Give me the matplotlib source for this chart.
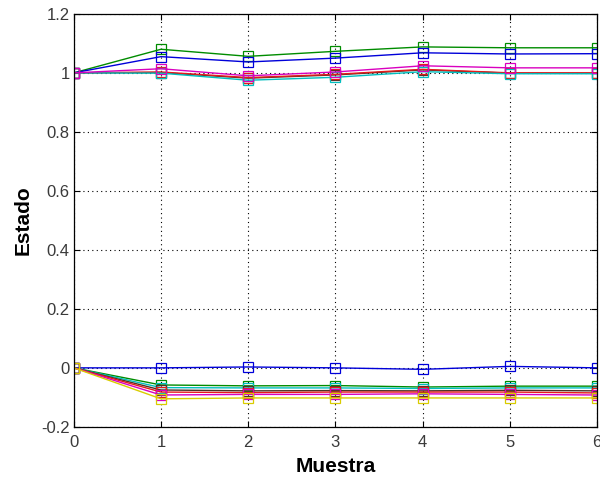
import matplotlib

matplotlib.use("Agg")
import matplotlib.pyplot as plt

plt.rcParams["font.family"] = ["Liberation Sans", "DejaVu Sans"]

muestra = [0, 1, 2, 3, 4, 5, 6]

# estados que arrancan en 1
sup_verde = [1, 1.080, 1.056, 1.073, 1.088, 1.085, 1.085]
sup_azul = [1, 1.055, 1.037, 1.050, 1.068, 1.064, 1.065]
sup_rojo = [1, 1.003, 0.984, 0.995, 1.012, 1.000, 1.000]
sup_negro = [1, 1.001, 0.982, 0.993, 1.010, 0.999, 0.999]
sup_cian = [1, 0.999, 0.975, 0.985, 1.004, 0.997, 0.997]
sup_magenta = [1, 1.014, 0.990, 1.003, 1.024, 1.017, 1.017]

# estados que arrancan en 0
inf_azul = [0, 0.000, 0.003, 0.000, -0.005, 0.005, 0.000]
inf_verde = [0, -0.058, -0.061, -0.060, -0.065, -0.062, -0.062]
inf_cian = [0, -0.067, -0.068, -0.068, -0.070, -0.068, -0.068]
inf_negro = [0, -0.075, -0.078, -0.077, -0.078, -0.076, -0.078]
inf_rojo = [0, -0.082, -0.084, -0.082, -0.082, -0.082, -0.085]
inf_magenta = [0, -0.092, -0.090, -0.090, -0.088, -0.090, -0.092]
inf_amarillo = [0, -0.105, -0.102, -0.102, -0.102, -0.102, -0.102]

y_ticks = [-0.2, 0, 0.2, 0.4, 0.6, 0.8, 1, 1.2]
y_labels = ["-0.2", "0", "0.2", "0.4", "0.6", "0.8", "1", "1.2"]

colores = {
    "b": (0, 0, 0.85),
    "g": (0, 0.55, 0),
    "r": (0.9, 0.1, 0.1),
    "c": (0, 0.75, 0.75),
    "m": (0.85, 0, 0.75),
    "y": (0.85, 0.8, 0),
    "k": (0.3, 0.2, 0.15),
}

series = [
    (sup_verde, "g"), (sup_azul, "b"), (sup_negro, "k"), (sup_rojo, "r"),
    (sup_cian, "c"), (sup_magenta, "m"),
    (inf_azul, "b"), (inf_verde, "g"), (inf_cian, "c"), (inf_negro, "k"),
    (inf_rojo, "r"), (inf_magenta, "m"), (inf_amarillo, "y"),
]

fig = plt.figure(figsize=(6.0, 4.78), dpi=100)
ax = fig.add_axes([0.123, 0.107, 0.872, 0.864])

for valores, c in series:
    ax.plot(muestra, valores, color=colores[c], linewidth=1.0,
            marker="s", markersize=7, markerfacecolor="none",
            markeredgecolor=colores[c], markeredgewidth=0.9)

ax.set_xlim(0, 6)
ax.set_ylim(-0.2, 1.2)
ax.set_xticks(muestra)
ax.set_xticklabels([str(m) for m in muestra])
ax.set_yticks(y_ticks)
ax.set_yticklabels(y_labels)
ax.grid(True, color="black", linestyle=(0, (1, 3)), linewidth=0.8)
ax.set_axisbelow(True)
ax.tick_params(direction="in", length=4, top=True, right=True,
               labelsize=12, colors="black", labelcolor="#3a3a3a")
ax.tick_params(axis="x", pad=6)
ax.tick_params(axis="y", pad=3)
for spine in ax.spines.values():
    spine.set_linewidth(0.9)

ax.set_xlabel("Muestra", fontsize=15, fontweight="bold", labelpad=5)
ax.set_ylabel("Estado", fontsize=15, fontweight="bold", labelpad=6)

fig.savefig("out.png", dpi=100)
